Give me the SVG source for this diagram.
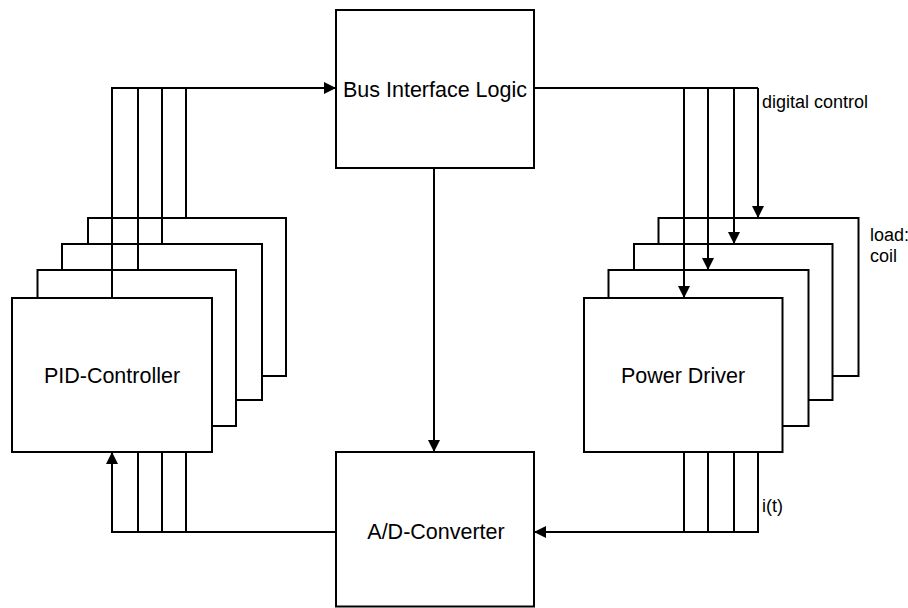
<svg xmlns="http://www.w3.org/2000/svg" width="908" height="608" viewBox="0 0 908 608">
<style>
.box{fill:#fff;stroke:#000;stroke-width:2}
.ln{fill:none;stroke:#000;stroke-width:2}
.t{font-family:"Liberation Sans",Arial,sans-serif;font-size:21.5px;fill:#000;text-anchor:middle}
.l{font-family:"Liberation Sans",Arial,sans-serif;font-size:18px;fill:#000}
</style>
<defs>
<marker id="arr" markerUnits="userSpaceOnUse" markerWidth="12" markerHeight="12" refX="12" refY="6" orient="auto">
<path d="M0,0 L12,6 L0,12 z" fill="#000"/>
</marker>
</defs>
<rect width="908" height="608" fill="#fff"/>
<g id="bus">
<rect class="box" x="336" y="10" width="198" height="158"/>
<text class="t" x="435" y="96.5">Bus Interface Logic</text>
</g>
<g id="pid">
<rect class="box" x="88" y="218" width="198" height="158"/>
<rect class="box" x="62" y="244" width="200" height="156"/>
<rect class="box" x="37.5" y="270" width="198.5" height="156"/>
<rect class="box" x="12" y="298" width="200" height="154"/>
<text class="t" x="112" y="383">PID-Controller</text>
</g>
<g id="driver">
<rect class="box" x="658.5" y="218" width="200" height="158"/>
<rect class="box" x="634" y="244" width="198.5" height="156"/>
<rect class="box" x="608.5" y="270" width="200" height="156"/>
<rect class="box" x="584" y="298" width="198.5" height="154"/>
<text class="t" x="683" y="383">Power Driver</text>
</g>
<g id="adc">
<rect class="box" x="336" y="452" width="198" height="154.5"/>
<text class="t" x="436" y="539">A/D-Converter</text>
</g>
<g id="connectors">
<path class="ln" d="M112,298 V88 H336" marker-end="url(#arr)"/>
<path class="ln" d="M138,270 V88 M162,244 V88 M186,218 V88"/>
<path class="ln" d="M534,88 H758"/>
<path class="ln" d="M684,88 V298" marker-end="url(#arr)"/>
<path class="ln" d="M708,88 V270" marker-end="url(#arr)"/>
<path class="ln" d="M734,88 V244" marker-end="url(#arr)"/>
<path class="ln" d="M758,88 V218" marker-end="url(#arr)"/>
<path class="ln" d="M434,168 V452" marker-end="url(#arr)"/>
<path class="ln" d="M336,532 H112 V452" marker-end="url(#arr)"/>
<path class="ln" d="M138,452 V532 M162,452 V532 M186,452 V532"/>
<path class="ln" d="M684,452 V532 M708,452 V532 M734,452 V532"/>
<path class="ln" d="M758,452 V532 H534" marker-end="url(#arr)"/>
</g>
<g id="labels">
<text class="l" x="762" y="108">digital control</text>
<text class="l" x="870" y="241">load:</text>
<text class="l" x="870" y="262">coil</text>
<text class="l" x="762" y="512">i(t)</text>
</g>
</svg>
